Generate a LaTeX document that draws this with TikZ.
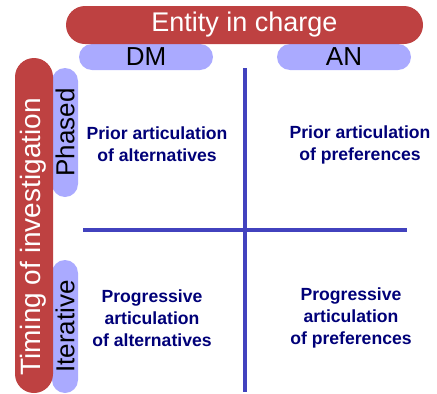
\documentclass[tikz,border=0pt]{standalone}
\usepackage{fontspec}
\setmainfont{Liberation Sans}
\begin{document}
\definecolor{barred}{RGB}{190,65,65}
\definecolor{pillblue}{RGB}{170,170,255}
\definecolor{axisblue}{RGB}{66,66,190}
\definecolor{navytext}{RGB}{0,0,120}
\begin{tikzpicture}[x=1pt,y=-1pt,
  redbar/.style={fill=barred, text=white, inner sep=0pt, rounded corners=19pt},
  pill/.style={fill=pillblue, text=black, inner sep=0pt, rounded corners=13pt},
  axis/.style={draw=axisblue, line width=4.5pt},
  cell/.style={text=navytext, align=center, inner sep=0pt,
    font=\fontsize{17.6}{22}\selectfont\bfseries}]
\useasboundingbox (0,0) rectangle (437,394);
% column and row labels
\node[pill, minimum width=134pt, minimum height=26pt,
  font=\fontsize{26}{28}\selectfont] (dm) at (146,57) {DM};
\node[pill, minimum width=134pt, minimum height=26pt,
  font=\fontsize{26}{28}\selectfont] (an) at (344,57) {AN};
\node[pill, minimum width=129pt, minimum height=26pt, rotate=90,
  font=\fontsize{26}{28}\selectfont] (phased) at (65,132.5) {Phased};
\node[pill, minimum width=133pt, minimum height=26pt, rotate=90,
  font=\fontsize{26}{28}\selectfont] (iter) at (65,326.5) {Iterative};
% headers
\node[redbar, minimum width=357pt, minimum height=38pt,
  font=\fontsize{27}{29}\selectfont] (entity) at (244.5,25) {Entity in charge};
\node[redbar, minimum width=335pt, minimum height=38pt, rotate=90,
  font=\fontsize{28}{30}\selectfont] (timing) at (34,225.5) {};
\node[text=white, rotate=90, inner sep=0pt,
  font=\fontsize{28}{30}\selectfont] (timingtext) at (33,237) {Timing of investigation};
% axes
\coordinate (vtop) at (245,68);
\coordinate (vbot) at (245,392);
\coordinate (hleft) at (83,230);
\coordinate (hright) at (407,230);
\draw[axis] (vtop) -- (vbot);
\draw[axis] (hleft) -- (hright);
% quadrants
\node[cell] (q1) at (157,144.5) {Prior articulation\\of alternatives};
\node[cell] (q2) at (360,144.5) {Prior articulation\\of preferences};
\node[cell] (q3) at (152,318) {Progressive\\articulation\\of alternatives};
\node[cell] (q4) at (351,318) {Progressive\\articulation\\of preferences};
\end{tikzpicture}
\end{document}
